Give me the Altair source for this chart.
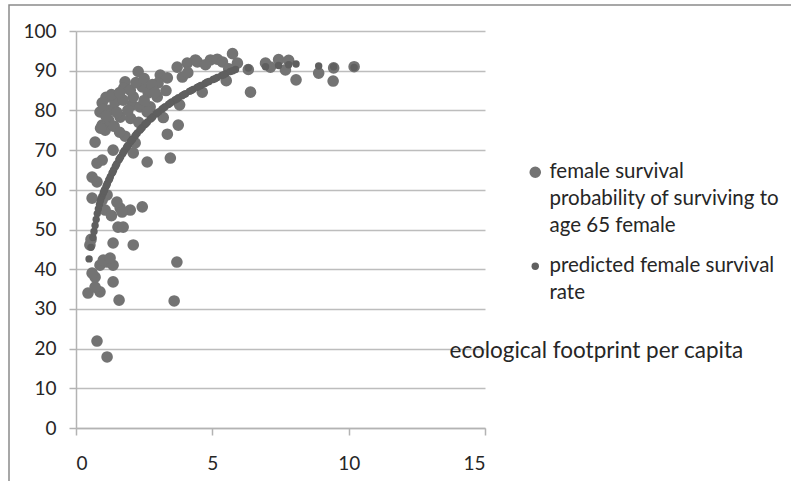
import json
import altair as alt
import pandas as pd

# ---- data ----
series_names = [
    "female survival probability of surviving to age 65 female",
    "predicted female survival rate",
]
legend_lines = [
    ["female survival", "probability of surviving to", "age 65 female"],
    ["predicted female survival", "rate"],
]

obs_x = [0.77, 1.14, 1.58, 3.6, 3.7, 0.44, 0.88, 0.7, 1.36, 0.7, 0.59, 0.88, 1.14, 1.36, 1.0, 1.25,
         2.1, 1.36, 0.51, 0.55,
         1.54, 1.73, 1.07, 1.62, 1.99, 2.43, 1.5, 1.14, 0.59, 0.96, 0.77, 0.59, 0.77, 0.96, 1.36, 0.7,
         2.1, 2.61, 3.46, 2.17, 1.8, 3.35, 1.07, 0.96, 3.75, 1.69, 1.3,
         2.28, 1.8, 1.75, 1.1, 0.96, 0.88, 1.25, 1.43, 1.62, 2.06, 2.1, 2.43, 2.65, 3.09, 3.35, 3.01,
         3.71, 3.9, 4.08, 4.38, 3.8, 3.2, 2.72, 2.98, 1.73, 1.99, 2.35, 2.61, 1.0, 1.2, 1.4, 1.5, 1.3,
         1.6, 2.2, 2.5, 2.8, 2.0, 2.3, 1.9, 1.1, 0.9, 1.6, 2.5, 3.3, 2.9,
         4.63, 4.45, 4.93, 5.18, 5.37, 5.51, 5.74, 5.92, 6.32, 6.4, 6.95, 7.13, 7.43, 7.68, 7.8, 8.07,
         8.9, 9.45, 9.43, 10.2, 4.75, 5.6, 4.1]
obs_y = [21.9, 17.9, 32.2, 32.0, 41.8, 34.0, 34.3, 35.5, 36.8, 38.0, 39.0, 41.0, 41.8, 41.0, 42.3, 42.8,
         46.1, 46.6, 46.1, 47.5,
         50.6, 50.6, 54.9, 55.4, 54.9, 55.7, 56.9, 58.7, 57.9, 57.4, 62.0, 63.2, 66.7, 67.5, 70.0, 72.0,
         69.3, 67.0, 68.0, 71.8, 73.5, 74.0, 75.0, 76.3, 76.3, 54.4, 53.5,
         89.8, 87.2, 85.6, 83.3, 81.9, 79.6, 80.1, 82.1, 78.3, 81.4, 83.4, 85.9, 84.4, 88.9, 88.2, 86.9,
         90.9, 88.4, 91.9, 92.7, 81.4, 78.2, 80.9, 83.4, 82.6, 85.1, 80.9, 79.6, 80.2, 77.5, 76.0, 79.5, 84.0,
         84.5, 87.0, 88.0, 86.5, 78.0, 77.0, 80.0, 78.5, 75.5, 74.5, 82.5, 85.0, 84.5,
         84.6, 92.2, 92.7, 92.9, 92.2, 87.5, 94.3, 91.9, 90.3, 84.6, 91.9, 90.9, 92.8, 90.2, 92.6, 87.7,
         89.4, 90.7, 87.4, 91.0, 91.5, 90.5, 89.5]

pred_x = [0.48, 0.55, 0.62, 0.66, 0.7, 0.74, 0.78, 0.82, 0.86, 0.9, 0.95, 1.0, 1.05, 1.1, 1.15, 1.2,
          1.26, 1.32, 1.38, 1.44, 1.5, 1.57, 1.64, 1.71, 1.78, 1.85, 1.92, 2.0, 2.08, 2.16, 2.25, 2.34,
          2.43, 2.52, 2.62, 2.72, 2.82, 2.93, 3.04, 3.15, 3.27, 3.39, 3.51, 3.63, 3.76, 3.89, 4.02, 4.16,
          4.3, 4.44, 4.58, 4.73, 4.88, 5.03, 5.18, 5.34, 5.5, 5.66, 5.85,
          1.03, 1.13, 1.23, 1.35, 1.47, 1.6, 1.75, 1.88, 2.04, 2.2, 2.38, 2.57, 2.77, 2.98, 3.21, 3.45,
          3.7, 3.96, 4.23, 4.51, 4.8, 5.1, 5.42, 5.75,
          6.32, 6.95, 7.43, 7.8, 8.07, 8.9, 9.45, 10.2]
pred_y = [42.6, 45.5, 48.0, 49.5, 51.0, 52.5, 54.0, 55.2, 56.3, 57.3, 58.3, 59.2, 60.0, 60.8, 61.6, 62.4,
          63.3, 64.2, 65.0, 65.8, 66.6, 67.5, 68.3, 69.1, 69.9, 70.6, 71.3, 72.1, 72.8, 73.5, 74.3, 75.0,
          75.7, 76.4, 77.1, 77.8, 78.4, 79.1, 79.7, 80.3, 80.9, 81.5, 82.1, 82.6, 83.2, 83.7, 84.2, 84.8,
          85.3, 85.8, 86.3, 86.8, 87.3, 87.8, 88.3, 88.8, 89.3, 89.8, 90.3,
          59.7, 61.2, 62.7, 64.5, 66.2, 67.9, 69.6, 71.0, 72.5, 73.9, 75.3, 76.7, 78.0, 79.4, 80.6, 81.8,
          82.9, 84.0, 85.0, 86.0, 87.1, 88.0, 89.0, 90.0,
          90.7, 91.0, 91.3, 91.5, 91.7, 91.2, 91.0, 90.8]

x_ticks = [0, 5, 10, 15]
y_ticks = [0, 10, 20, 30, 40, 50, 60, 70, 80, 90, 100]

# ---- build table ----
df = pd.concat([
    pd.DataFrame({"x": obs_x, "y": obs_y, "series": series_names[0]}),
    pd.DataFrame({"x": pred_x, "y": pred_y, "series": series_names[1]}),
], ignore_index=True)

FONT = "Lato"
TXT = "#262626"

label_expr = "datum.label == {} ? {} : {}".format(
    json.dumps(series_names[0]), json.dumps(legend_lines[0]), json.dumps(legend_lines[1]))

legend = alt.Legend(
    title=None, orient="none", legendX=449, legendY=131,
    labelExpr=label_expr, labelFont=FONT, labelFontSize=20.5, labelColor=TXT,
    labelLimit=400, labelOffset=4, rowPadding=19, symbolStrokeWidth=0, symbolType="circle",
)

points = alt.Chart(df).mark_circle(opacity=1).encode(
    x=alt.X("x:Q", scale=alt.Scale(domain=[0, 15], nice=False),
            axis=alt.Axis(values=x_ticks, grid=False, title="ecological footprint per capita",
                          titleX=373, titleY=-78, titleAlign="left", titleBaseline="middle",
                          titleFont=FONT, titleFontSize=22.5, titleFontWeight="normal", titleColor=TXT,
                          labelPadding=19)),
    y=alt.Y("y:Q", scale=alt.Scale(domain=[0, 100], nice=False),
            axis=alt.Axis(values=y_ticks, grid=True, title=None, labelPadding=13)),
    color=alt.Color("series:N", scale=alt.Scale(domain=series_names, range=["#737373", "#5f5f5f"]),
                    legend=legend),
    size=alt.Size("series:N", scale=alt.Scale(domain=series_names, range=[135, 55]), legend=legend),
)

frame = alt.Chart(alt.Data(values=[{"k": 1}])).mark_rect(
    filled=False, stroke="#8a8a8a", strokeWidth=1.5
).encode(x=alt.value(-67), x2=alt.value(900), y=alt.value(-26), y2=alt.value(600))

chart = alt.layer(frame, points).properties(
    width=409, height=397,
    autosize=alt.AutoSizeParams(type="none"),
    padding={"left": 76, "top": 31, "right": 306, "bottom": 53},
    background="white",
).configure_axis(
    labelFont=FONT, labelFontSize=19, labelColor=TXT,
    domainColor="#b3b3b3", domainWidth=1.5, tickColor="#b3b3b3", tickWidth=1.5, tickSize=7,
    gridColor="#bdbdbd", gridWidth=1.5,
).configure_view(strokeWidth=0)
chart.config.style = {"guide-label": {"lineHeight": 27}}

chart.save("out.html", embed_options={"renderer": "svg", "actions": False})
